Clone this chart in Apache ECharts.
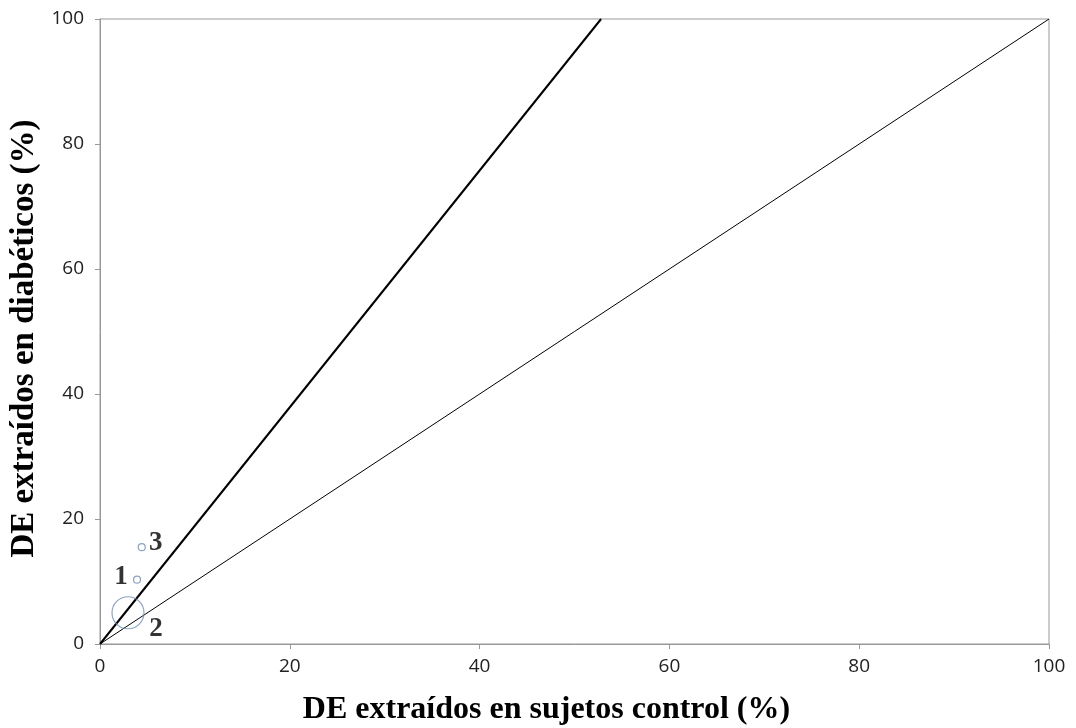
<!DOCTYPE html>
<html>
<head>
<meta charset="utf-8">
<script src="https://cdn.jsdelivr.net/npm/echarts@6/dist/echarts.min.js"></script>
<style>html,body{margin:0;padding:0;background:#fff}#c{width:1076px;height:728px}</style>
</head>
<body>
<div id="c"></div>
<script>
var xTitle = 'DE extraídos en sujetos control (%)';
var yTitle = 'DE extraídos en diabéticos (%)';
var bubbleNames = ['1', '2', '3'];
var bubbleX = [3.9, 2.95, 4.4];
var bubbleY = [10.3, 5.0, 15.5];
var bubbleSize = [7, 32, 7];
var steepLine = [[0, 0], [52.8, 100]];
var identityLine = [[0, 0], [100, 100]];

var labelOffset = {'1': [-16, -3], '2': [28, 16], '3': [14, -4]};

var bubbleData = bubbleNames.map(function (n, i) {
  return {
    name: n,
    value: [bubbleX[i], bubbleY[i]],
    symbolSize: bubbleSize[i],
    label: {show: true, formatter: n, position: 'inside', offset: labelOffset[n]}
  };
});

var chart = echarts.init(document.getElementById('c'));
chart.setOption({
  animation: false,
  backgroundColor: '#fff',
  grid: {left: 100, right: 27, top: 19, bottom: 84, show: true, borderColor: '#999', borderWidth: 1,
         containLabel: false, outerBoundsMode: 'none'},
  xAxis: {
    type: 'value', min: 0, max: 100, interval: 20,
    name: xTitle, nameLocation: 'middle', nameGap: 50,
    nameTextStyle: {fontFamily: 'Liberation Serif', fontWeight: 'bold', fontSize: 32, color: '#000',
                    padding: [0, 56, 0, 0]},
    axisLine: {lineStyle: {color: '#999'}},
    axisTick: {show: true, length: 5, lineStyle: {color: '#999'}},
    axisLabel: {fontFamily: 'Open Sans', fontSize: 19, color: '#222', margin: 13},
    splitLine: {show: false}
  },
  yAxis: {
    type: 'value', min: 0, max: 100, interval: 20,
    name: yTitle, nameLocation: 'middle', nameGap: 58,
    nameTextStyle: {fontFamily: 'Liberation Serif', fontWeight: 'bold', fontSize: 33, color: '#000',
                    padding: [0, 14, 0, 0]},
    axisLine: {show: true, lineStyle: {color: '#999'}},
    axisTick: {show: true, length: 5, lineStyle: {color: '#999'}},
    axisLabel: {fontFamily: 'Open Sans', fontSize: 19, color: '#222', margin: 16},
    splitLine: {show: false}
  },
  series: [
    {
      type: 'line', data: identityLine, symbol: 'none',
      lineStyle: {color: '#000', width: 1}, z: 2
    },
    {
      type: 'line', data: steepLine, symbol: 'none',
      lineStyle: {color: '#000', width: 2}, z: 2
    },
    {
      type: 'scatter', data: bubbleData, symbol: 'circle',
      itemStyle: {color: 'rgba(0,0,0,0)', borderColor: '#6f8db0', borderWidth: 1.2},
      label: {fontFamily: 'Liberation Serif', fontWeight: 'bold', fontSize: 27, color: '#000'},
      z: 3
    }
  ]
});
</script>
</body>
</html>
